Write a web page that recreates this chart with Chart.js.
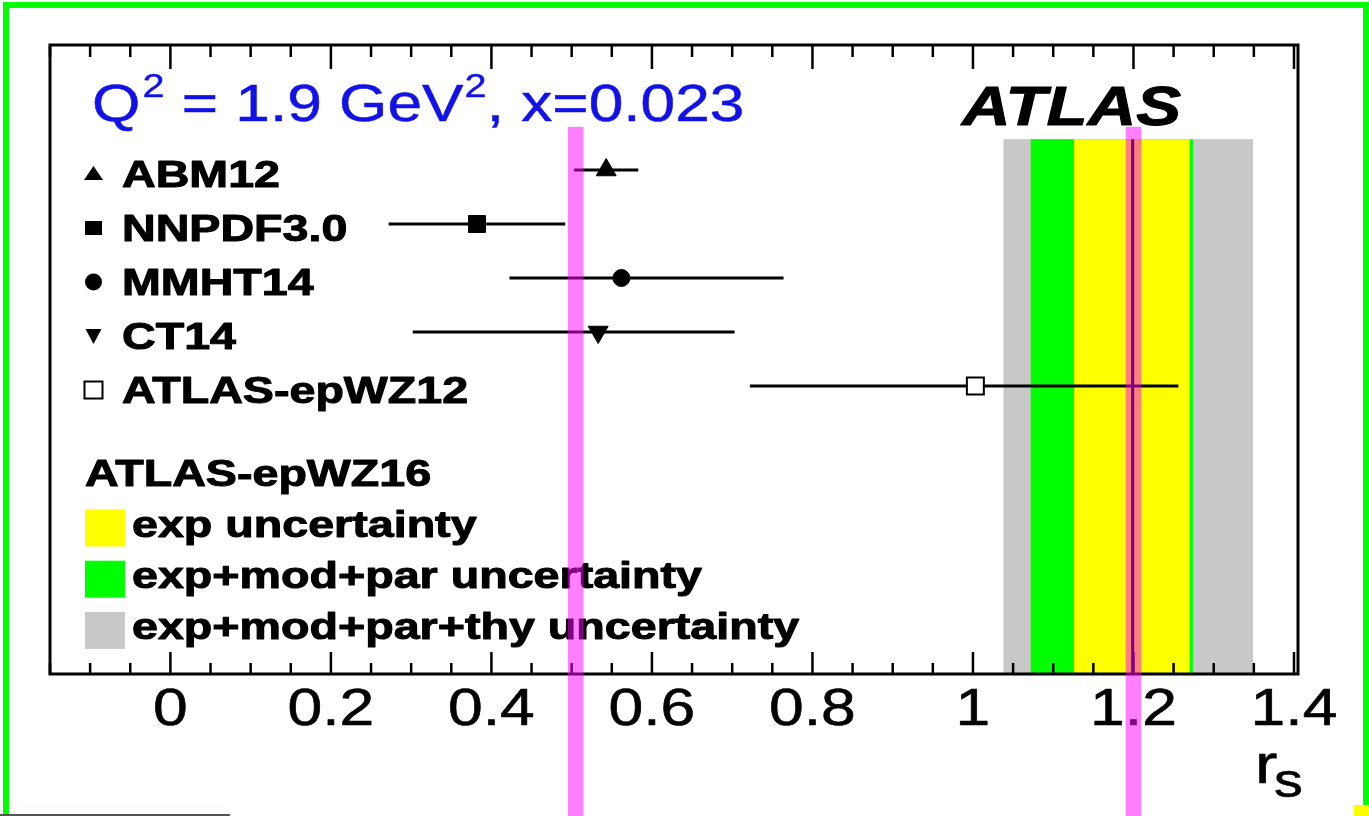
<!DOCTYPE html>
<html><head><meta charset="utf-8">
<script src="https://cdn.jsdelivr.net/npm/chart.js@4.4.1/dist/chart.umd.min.js"></script>
<style>html,body{margin:0;padding:0;background:#fff;overflow:hidden}#wrap{position:relative;width:1369px;height:816px}</style>
</head><body><div id="wrap"><canvas id="c" width="1369" height="816"></canvas></div>
<script>
// ---------------- data ----------------
const pdfNames = ['ABM12', 'NNPDF3.0', 'MMHT14', 'CT14', 'ATLAS-epWZ12'];
const rsCentral = [0.543, 0.382, 0.562, 0.533, 1.003];
const rsLow     = [0.503, 0.272, 0.4225, 0.302, 0.722];
const rsHigh    = [0.583, 0.492, 0.764, 0.703, 1.256];
const rowIndex  = [1, 2, 3, 4, 5];

const bandNames = ['exp uncertainty', 'exp+mod+par uncertainty', 'exp+mod+par+thy uncertainty'];
const bandLow   = [1.126, 1.072, 1.038];
const bandHigh  = [1.270, 1.274, 1.349];
const epWZ16Central = 1.199;
const epWZ16Label = 'ATLAS-epWZ16';

const xTickValues = [0, 0.2, 0.4, 0.6, 0.8, 1, 1.2, 1.4];
const xTickLabels = ['0', '0.2', '0.4', '0.6', '0.8', '1', '1.2', '1.4'];
const xMinorStep = 0.05;
const markLines = [0.505, 1.2];   // highlighted vertical marks

// ---------------- styling ----------------
const FONT = '"Liberation Sans", Arial, Helvetica, sans-serif';
const bandColors = ['#ffff00', '#00ff00', '#c8c8c8'];
const markerStyle = [
  {pointStyle: 'triangle', radius: 11.5, rotation: 0, bg: '#000'},
  {pointStyle: 'rect', radius: 12, rotation: 0, bg: '#000'},
  {pointStyle: 'circle', radius: 8.5, rotation: 0, bg: '#000'},
  {pointStyle: 'triangle', radius: 11.5, rotation: 180, bg: '#000'},
  {pointStyle: 'rect', radius: 12, rotation: 0, bg: '#fff'}
];

function sText(ctx, text, x, y, font, color, sx, align, thick) {
  ctx.save();
  ctx.font = font; ctx.fillStyle = color; ctx.textBaseline = 'alphabetic'; ctx.textAlign = 'left';
  const w = ctx.measureText(text).width * sx;
  const x0 = align === 'center' ? x - w / 2 : align === 'right' ? x - w : x;
  ctx.translate(x0, y); ctx.scale(sx, 1); ctx.fillText(text, 0, 0);
  if (thick) { ctx.strokeStyle = color; ctx.lineWidth = thick; ctx.lineJoin = 'round'; ctx.strokeText(text, 0, 0); }
  ctx.restore();
  return w;
}

const datasets = [];
pdfNames.forEach((n, i) => {
  datasets.push({
    type: 'line', label: n + ' err',
    data: [{x: rsLow[i], y: rowIndex[i]}, {x: rsHigh[i], y: rowIndex[i]}],
    borderColor: '#000', borderWidth: 3, pointRadius: 0, showLine: true, order: 2
  });
});
pdfNames.forEach((n, i) => {
  const m = markerStyle[i];
  datasets.push({
    type: 'scatter', label: n,
    data: [{x: rsCentral[i], y: rowIndex[i]}],
    pointStyle: m.pointStyle, pointRadius: m.radius, pointRotation: m.rotation,
    backgroundColor: m.bg, borderColor: '#000', borderWidth: i === 4 ? 2 : 1, order: 1
  });
});

const bandPlugin = {
  id: 'bands',
  beforeDatasetsDraw(chart) {
    const {ctx, chartArea: a, scales: {x, y}} = chart;
    const top = y.getPixelForValue(0.43);
    ctx.save();
    for (let i = bandNames.length - 1; i >= 0; i--) {
      const x0 = x.getPixelForValue(bandLow[i]), x1 = x.getPixelForValue(bandHigh[i]);
      ctx.fillStyle = bandColors[i];
      ctx.fillRect(x0, top, x1 - x0, a.bottom - top);
    }
    const xc = x.getPixelForValue(epWZ16Central);
    ctx.strokeStyle = '#000'; ctx.lineWidth = 3;
    ctx.beginPath(); ctx.moveTo(xc, top); ctx.lineTo(xc, a.bottom); ctx.stroke();
    ctx.restore();
  }
};

const decoPlugin = {
  id: 'deco',
  afterDatasetsDraw(chart) {
    const {ctx, chartArea: a, scales: {x, y}} = chart;
    ctx.save();
    // frame
    ctx.strokeStyle = '#000'; ctx.lineWidth = 3;
    ctx.strokeRect(a.left, a.top, a.right - a.left, a.bottom - a.top);
    // ticks
    ctx.lineWidth = 2.5;
    const n = Math.round((x.max - x.min) / xMinorStep) + 2;
    const start = Math.ceil(x.min / xMinorStep - 1e-6);
    for (let k = start; k < start + n; k++) {
      const v = k * xMinorStep;
      if (v > x.max + 1e-9) break;
      const px = x.getPixelForValue(v);
      const major = Math.abs(v / 0.2 - Math.round(v / 0.2)) < 1e-6;
      const lb = major ? 22 : 11, lt = major ? 24 : 12;
      ctx.beginPath();
      ctx.moveTo(px, a.bottom); ctx.lineTo(px, a.bottom - lb);
      ctx.moveTo(px, a.top); ctx.lineTo(px, a.top + lt);
      ctx.stroke();
    }
    // tick labels
    xTickValues.forEach((v, i) => {
      sText(ctx, xTickLabels[i], x.getPixelForValue(v), 725, '52px ' + FONT, '#000', 1.2, 'center', 0.6);
    });
    // axis title r_s
    sText(ctx, 'r', 1255, 783, '56px ' + FONT, '#000', 1.2, 'left', 0.6);
    sText(ctx, 's', 1274, 797, '48px ' + FONT, '#000', 1.2, 'left', 0.6);

    // title
    const blue = '#1212e6';
    let tx = 92;
    tx += sText(ctx, 'Q', tx, 121, '51px ' + FONT, blue, 1.22, 'left', 0.5);
    tx += sText(ctx, '2', tx + 2, 97, '33px ' + FONT, blue, 1.2, 'left', 0.4) + 2;
    tx += sText(ctx, ' = 1.9 GeV', tx, 121, '51px ' + FONT, blue, 1.22, 'left', 0.5);
    tx += sText(ctx, '2', tx + 1, 97, '33px ' + FONT, blue, 1.2, 'left', 0.4) + 1;
    sText(ctx, ', x=0.023', tx, 121, '51px ' + FONT, blue, 1.22, 'left', 0.5);

    // ATLAS
    sText(ctx, 'ATLAS', 962, 125, 'italic bold 56px ' + FONT, '#000', 1.2, 'left', 1);

    // PDF legend
    const lf = 'bold 37px ' + FONT;
    pdfNames.forEach((nm, i) => {
      const cy = y.getPixelForValue(rowIndex[i]) + 3;
      sText(ctx, nm, 122, cy + 13.5, lf, '#000', 1.26, 'left', 1);
      const mx = 93.5, my = cy + 1;
      ctx.fillStyle = '#000'; ctx.strokeStyle = '#000'; ctx.lineWidth = 2;
      ctx.beginPath();
      if (i === 0) { ctx.moveTo(mx, my - 8); ctx.lineTo(mx + 9.5, my + 6); ctx.lineTo(mx - 9.5, my + 6); ctx.closePath(); ctx.fill(); }
      else if (i === 1) { ctx.fillRect(mx - 8.5, my - 7, 17, 14); }
      else if (i === 2) { ctx.arc(mx, my, 8.5, 0, Math.PI * 2); ctx.fill(); }
      else if (i === 3) { ctx.moveTo(mx - 8, my - 7); ctx.lineTo(mx + 8, my - 7); ctx.lineTo(mx, my + 8); ctx.closePath(); ctx.fill(); }
      else { ctx.fillStyle = '#fff'; ctx.fillRect(mx - 9, my - 8.5, 18, 17); ctx.strokeRect(mx - 9, my - 8.5, 18, 17); }
    });
    // band legend
    sText(ctx, epWZ16Label, 85, 486, lf, '#000', 1.26, 'left', 1);
    bandNames.forEach((nm, i) => {
      const by = 509.5 + i * 51.2;
      ctx.fillStyle = bandColors[i];
      ctx.fillRect(85, by, 40, 37);
      sText(ctx, nm, 132, by + 27.5, lf, '#000', 1.26, 'left', 1);
    });
    ctx.restore();
  },
  afterDraw(chart) {
    const {ctx, scales: {x, y}} = chart;
    ctx.save();
    // highlight marks
    ctx.fillStyle = 'rgba(255,0,255,0.5)';
    const top = y.getPixelForValue(0.2);
    markLines.forEach(v => {
      const px = x.getPixelForValue(v);
      ctx.fillRect(px - 7.8, top, 15.6, chart.height - top);
    });
    // outer decorations
    ctx.fillStyle = '#00ff00';
    ctx.fillRect(3, 2, 6, 814);
    ctx.fillRect(3, 2, 1366, 6);
    ctx.fillRect(1363, 2, 6, 803);
    ctx.fillStyle = '#ffff00';
    ctx.fillRect(1354, 805, 15, 11);
    ctx.fillStyle = '#4e5a50';
    ctx.fillRect(0, 814, 230, 2);
    ctx.restore();
  }
};

new Chart(document.getElementById('c'), {
  data: {datasets},
  options: {
    responsive: false, animation: false, devicePixelRatio: 1,
    layout: {padding: {left: 50, right: 71, top: 45, bottom: 0}},
    plugins: {legend: {display: false}, tooltip: {enabled: false}},
    scales: {
      x: {type: 'linear', min: -0.15, max: 1.405, grid: {display: false}, border: {display: false},
          ticks: {display: false}, afterFit(s) { s.height = 142; }},
      y: {type: 'linear', reverse: true, min: -1.315, max: 10.333, display: false}
    }
  },
  plugins: [bandPlugin, decoPlugin]
});
</script>
</body></html>
